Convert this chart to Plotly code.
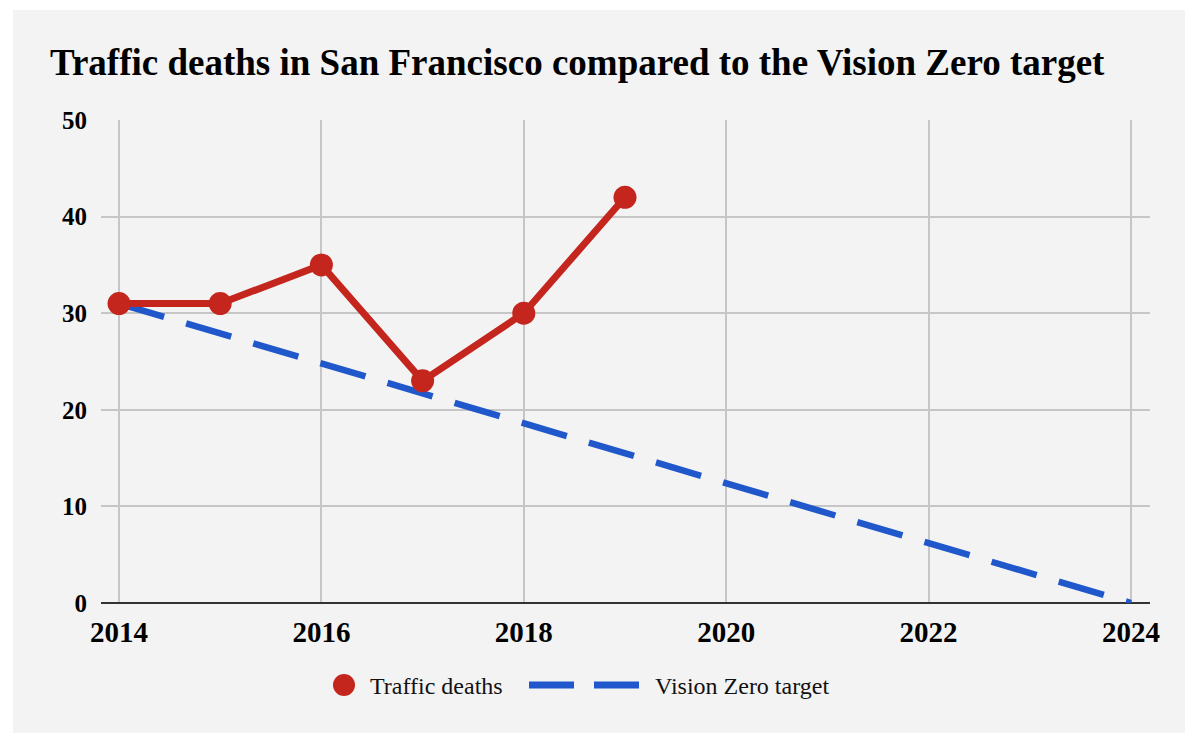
import plotly.graph_objects as go

years = [2014, 2015, 2016, 2017, 2018, 2019]
deaths = [31, 31, 35, 23, 30, 42]
target_years = [2014, 2024]
target_values = [31, 0]
x_ticks = [2014, 2016, 2018, 2020, 2022, 2024]
y_ticks = [0, 10, 20, 30, 40, 50]

RED = "#c4261d"
BLUE = "#2058cc"
BG = "#f3f3f3"
SERIF = "Liberation Serif, Times New Roman, serif"

fig = go.Figure()
fig.add_trace(go.Scatter(x=target_years, y=target_values, mode="lines",
                         line=dict(color=BLUE, width=6.5, dash="47px,23px"),
                         name="Vision Zero target", showlegend=False))
fig.add_trace(go.Scatter(x=years, y=deaths, mode="lines+markers",
                         line=dict(color=RED, width=7),
                         marker=dict(color=RED, size=23),
                         name="Traffic deaths", showlegend=False))

OFF = 8  # page offset
W, H = 1200, 747
L, R, T, B = 101 - OFF, 50 + OFF, 120 - OFF, 144 + OFF
pw, ph = W - L - R, H - T - B
def px(x):
    return (x - OFF - L) / pw
def py(y):
    return (H - B - (y - OFF)) / ph

shapes = [
    dict(type="rect", xref="paper", yref="paper", layer="below",
         x0=px(13), x1=px(1185), y0=py(733), y1=py(10),
         fillcolor=BG, line=dict(width=0)),
    # custom legend
    dict(type="circle", xref="paper", yref="paper",
         x0=px(333), x1=px(355), y0=py(696), y1=py(674),
         fillcolor=RED, line=dict(width=0)),
    dict(type="line", xref="paper", yref="paper",
         x0=px(529), x1=px(574), y0=py(685), y1=py(685),
         line=dict(color=BLUE, width=7)),
    dict(type="line", xref="paper", yref="paper",
         x0=px(594), x1=px(639), y0=py(685), y1=py(685),
         line=dict(color=BLUE, width=7)),
]
annotations = [
    dict(text="Traffic deaths", xref="paper", yref="paper", x=px(368), y=py(686),
         xanchor="left", yanchor="middle", showarrow=False,
         font=dict(family=SERIF, size=24, color="#111")),
    dict(text="Vision Zero target", xref="paper", yref="paper", x=px(653), y=py(686),
         xanchor="left", yanchor="middle", showarrow=False,
         font=dict(family=SERIF, size=24, color="#111")),
]

fig.update_layout(
    width=W, height=H,
    margin=dict(l=L, r=R, t=T, b=B),
    paper_bgcolor="white", plot_bgcolor=BG,
    title=dict(text="<b>Traffic deaths in San Francisco compared to the Vision Zero target</b>",
               x=(50 - OFF) / W, xref="container", xanchor="left",
               y=1 - (62 - OFF) / H, yref="container", yanchor="middle",
               font=dict(family=SERIF, size=37, color="#000")),
    shapes=shapes, annotations=annotations,
    showlegend=False,
)
fig.update_xaxes(range=[2014 - 18 / 101.2, 2024 + 19 / 101.2], tickvals=x_ticks,
                 ticktext=[f"<b>{v}</b>" for v in x_ticks], showgrid=True, gridcolor="#c6c6c6",
                 gridwidth=1.5, zeroline=False, showline=False, ticks="",
                 tickfont=dict(family=SERIF, size=29, color="#000"), ticklabelstandoff=9)
fig.update_yaxes(range=[0, 50], tickvals=y_ticks, ticktext=[f"<b>{v}</b>" for v in y_ticks],
                 showgrid=True, gridcolor="#c6c6c6", gridwidth=1.5,
                 zeroline=True, zerolinecolor="#333", zerolinewidth=2,
                 showline=False, ticks="", ticklabelstandoff=13,
                 tickfont=dict(family=SERIF, size=25, color="#000"))

fig.write_html("out.html")
